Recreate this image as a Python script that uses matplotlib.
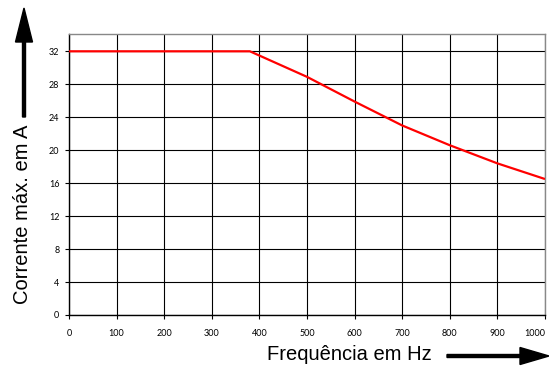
import matplotlib
matplotlib.use("Agg")
import matplotlib.pyplot as plt
from matplotlib.patches import FancyArrow

# current derating curve
freq = [0, 380, 500, 600, 700, 750, 800, 900, 1000]
current = [32, 32, 28.9, 25.9, 23.0, 21.8, 20.6, 18.4, 16.5]

xticks = list(range(0, 1001, 100))
yticks = list(range(0, 33, 4))

fig = plt.figure(figsize=(5.49, 3.67), dpi=100)
ax = fig.add_axes([69 / 549, 52 / 367, 476 / 549, 281 / 367])

ax.plot(freq, current, color="#ff0000", lw=1.6, zorder=3, solid_capstyle="butt")

ax.set_xlim(0, 1000)
ax.set_ylim(0, 34.1)
ax.set_xticks(xticks)
ax.set_yticks(yticks)
ax.tick_params(labelsize=6.5, length=3, width=0.8, pad=4, color="black")
for lab in ax.get_xticklabels() + ax.get_yticklabels():
    lab.set_family("Lato")
ax.get_xticklabels()[-1].set_ha("right")
ax.tick_params(axis="x", pad=7)
ax.grid(True, color="black", lw=0.8)
ax.set_axisbelow(True)
for side in ("top", "right"):
    ax.spines[side].set_color("#888888")
for side in ("left", "bottom"):
    ax.spines[side].set_color("black")
for sp in ax.spines.values():
    sp.set_linewidth(1.0)

fig.text(23 / 549, 1 - 214 / 367, "Corrente máx. em A", rotation=90,
         ha="center", va="center", fontsize=14.5, family="Liberation Sans")
fig.text(349 / 549, 1 - 354 / 367, "Frequência em Hz",
         ha="center", va="center", fontsize=14.5, family="Liberation Sans")

# axis direction arrows (inches)
fig.add_artist(FancyArrow(0.24, 2.50, 0, 1.09, width=0.03, head_width=0.17,
                          head_length=0.34, length_includes_head=True,
                          color="black", transform=fig.dpi_scale_trans))
fig.add_artist(FancyArrow(4.47, 0.11, 1.02, 0, width=0.03, head_width=0.17,
                          head_length=0.29, length_includes_head=True,
                          color="black", transform=fig.dpi_scale_trans))

fig.savefig("out.png", dpi=100)
